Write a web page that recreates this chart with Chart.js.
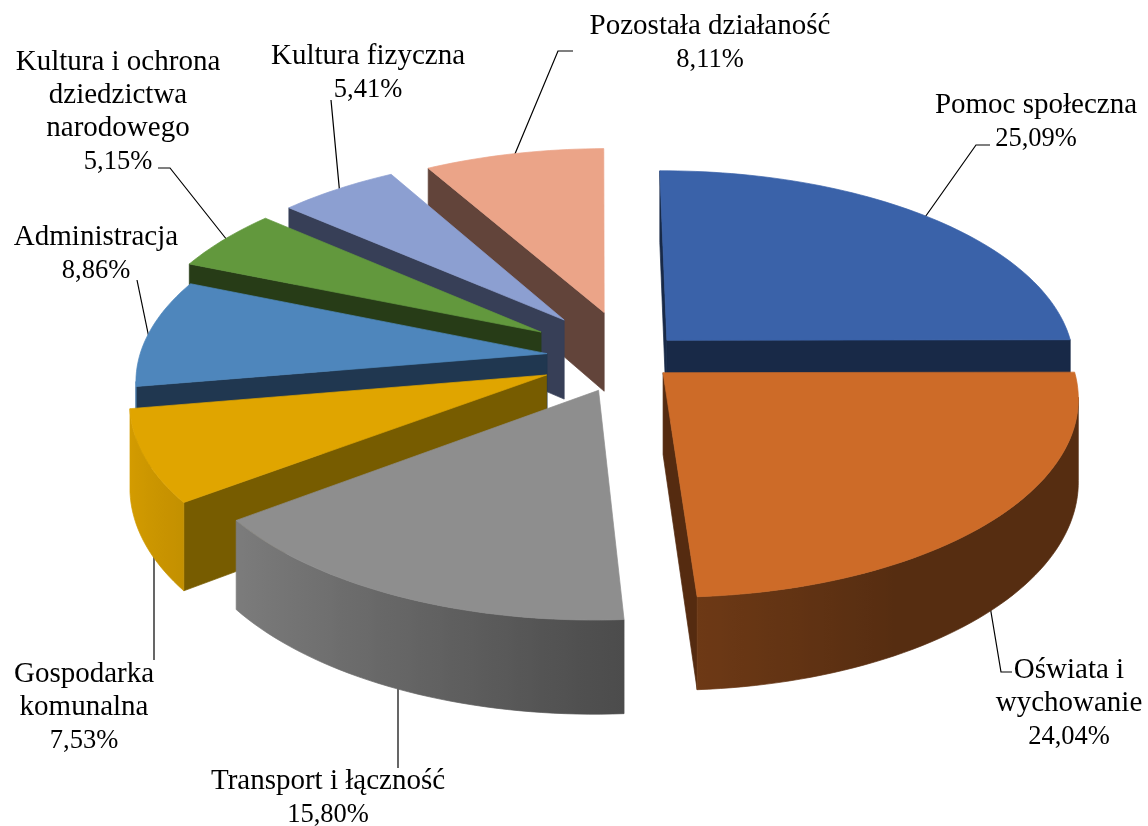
<!DOCTYPE html>
<html>
<head>
<meta charset="utf-8">
<style>
	html, body { margin: 0; background: #fff; }
	#wrap { width: 1148px; height: 826px; }
</style>
<script src="https://cdn.jsdelivr.net/npm/chart.js@4"></script>
</head>
<body>
<div id="wrap"><canvas id="graficoPieCanvas" width="1148" height="826"></canvas></div>
<script>
const categories = ['Pomoc społeczna', 'Oświata i wychowanie', 'Transport i łączność', 'Gospodarka komunalna', 'Administracja', 'Kultura i ochrona dziedzictwa narodowego', 'Kultura fizyczna', 'Pozostała działaność']
const values = [25.09, 24.04, 15.80, 7.53, 8.86, 5.15, 5.41, 8.11]
const colors = ['#3a62a9', '#cd6b28', '#8e8e8e', '#e0a500', '#4e86bc', '#62983d', '#8c9fd1', '#eba488']
const wallColors = ['#182947', '#552b10', '#5a5a5a', '#775c00', '#203750', '#273c17', '#373f57', '#62443a']
const explode = [13, 11, 18, 22, 20.5, 26, 26, 25]

// how the label text breaks, and where it sits
const labelLines = [['Pomoc społeczna'], ['Oświata i', 'wychowanie'], ['Transport i łączność'], ['Gospodarka', 'komunalna'], ['Administracja'], ['Kultura i ochrona', 'dziedzictwa', 'narodowego'], ['Kultura fizyczna'], ['Pozostała działaność']]
const labelX = [1036, 1069, 328, 84, 96, 118, 368, 710]
const labelY = [113, 678, 789, 682, 245, 70, 64, 34]
const lineHeight = 33
// leaders are drawn under the slices, so their inner ends run a little past the edge
const leaders = [
	[[923, 220], [976, 145], [990, 145]],
	[[989, 600], [1001, 672], [1012, 672]],
	[[398, 670], [398, 768]],
	[[154, 530], [154, 660]],
	[[149, 338], [137, 280]],
	[[231, 245], [170, 168], [158, 168]],
	[[340, 196], [331, 100]],
	[[512, 161], [558, 51], [573, 51]]
]

// camera for the tilted pie
const view = { cx: 630, cy: 358, R: 408, tilt: 0.475, persp: 0.12, depth: 81 }

const project = (u, v, h) => {
	let w = 1 / (1 - view.persp * v)
	return [view.cx + view.R * u * w, view.cy + view.R * view.tilt * v * w + h * w]
}

const shade = (hex, f) => {
	let n = parseInt(hex.slice(1), 16)
	let c = [n >> 16, (n >> 8) & 255, n & 255].map(x => Math.min(255, Math.round(x * f)))
	return `rgb(${c[0]},${c[1]},${c[2]})`
}

const poly = (ctx, pts, color) => {
	ctx.beginPath()
	pts.forEach((p, i) => i ? ctx.lineTo(p[0], p[1]) : ctx.moveTo(p[0], p[1]))
	ctx.closePath()
	ctx.fillStyle = color
	ctx.strokeStyle = color
	ctx.lineWidth = 0.7
	ctx.fill()
	ctx.stroke()
}

const area = pts => pts.reduce((s, p, i) => {
	let q = pts[(i + 1) % pts.length]
	return s + p[0] * q[1] - q[0] * p[1]
}, 0)

const lightAt = u => u < 0 ? 0.55 - 0.4 * u : Math.max(0.42, 0.55 - 0.26 * u)

const drawSlice = (ctx, el, i) => {
	let mid = (el.startAngle + el.endAngle) / 2
	let off = el.options.offset / 100
	let ox = off * Math.cos(mid)
	let oy = off * Math.sin(mid)
	let steps = Math.max(8, Math.round((el.endAngle - el.startAngle) * 40))
	let rim = []
	for (let s = 0; s <= steps; s++) {
		let a = el.startAngle + (el.endAngle - el.startAngle) * s / steps
		rim.push([ox + Math.cos(a), oy + Math.sin(a)])
	}
	let top = (p) => project(p[0], p[1], 0)
	let bot = (p) => project(p[0], p[1], view.depth)
	let apex = [ox, oy]
	let last = rim[rim.length - 1]

	let startWall = [top(apex), top(rim[0]), bot(rim[0]), bot(apex)]
	let endWall = [top(last), top(apex), bot(apex), bot(last)]
	if (area(startWall) < 0) poly(ctx, startWall, wallColors[i])
	if (area(endWall) < 0) poly(ctx, endWall, wallColors[i])

	// outer wall: the part of the rim facing the viewer, shaded left to right
	let seen = rim.filter((p, s) => {
		let nb = rim[s + 1] || p
		let pv = rim[s - 1] || p
		return area([top(p), top(nb), bot(nb), bot(p)]) < 0 || area([top(pv), top(p), bot(p), bot(pv)]) < 0
	})
	if (seen.length > 1) {
		let xs = seen.map(p => top(p)[0])
		let x0 = Math.min(...xs)
		let x1 = Math.max(...xs)
		let grad = ctx.createLinearGradient(x0, 0, x1, 0)
		seen.forEach((p, s) => grad.addColorStop((xs[s] - x0) / (x1 - x0), shade(colors[i], lightAt(p[0] - ox))))
		poly(ctx, seen.map(top).concat(seen.slice().reverse().map(bot)), grad)
	}
	poly(ctx, [top(apex)].concat(rim.map(top)), colors[i])
}

const pie3d = {
	id: 'pie3d',
	beforeDatasetsDraw(chart) {
		let ctx = chart.ctx
		let arcs = chart.getDatasetMeta(0).data
		let order = arcs.map((el, i) => i)
		let depthOf = i => Math.sin((arcs[i].startAngle + arcs[i].endAngle) / 2)
		order.sort((a, b) => depthOf(a) - depthOf(b))
		ctx.save()
		ctx.strokeStyle = '#000'
		ctx.lineWidth = 1.2
		leaders.forEach(line => {
			ctx.beginPath()
			line.forEach((p, i) => i ? ctx.lineTo(p[0], p[1]) : ctx.moveTo(p[0], p[1]))
			ctx.stroke()
		})
		order.forEach(i => drawSlice(ctx, arcs[i], i))
		ctx.restore()
		return false
	},
	afterDraw(chart) {
		let ctx = chart.ctx
		ctx.save()
		ctx.fillStyle = '#000'
		ctx.textAlign = 'center'
		ctx.textBaseline = 'alphabetic'
		labelLines.forEach((lines, i) => {
			ctx.font = '29px "Liberation Serif"'
			lines.forEach((t, k) => ctx.fillText(t, labelX[i], labelY[i] + k * lineHeight))
			ctx.font = '26.5px "Liberation Serif"'
			ctx.fillText(values[i].toFixed(2).replace('.', ',') + '%', labelX[i], labelY[i] + lines.length * lineHeight)
		})
		ctx.restore()
	}
}

new Chart(document.getElementById('graficoPieCanvas'), {
	type: 'pie',
	data: {
		labels: categories,
		datasets: [{
			data: values,
			backgroundColor: colors,
			offset: explode,
			borderWidth: 0
		}]
	},
	options: {
		responsive: false,
		animation: false,
		rotation: -0.5,
		plugins: {
			legend: { display: false },
			tooltip: { enabled: false }
		}
	},
	plugins: [pie3d]
})
</script>
</body>
</html>
